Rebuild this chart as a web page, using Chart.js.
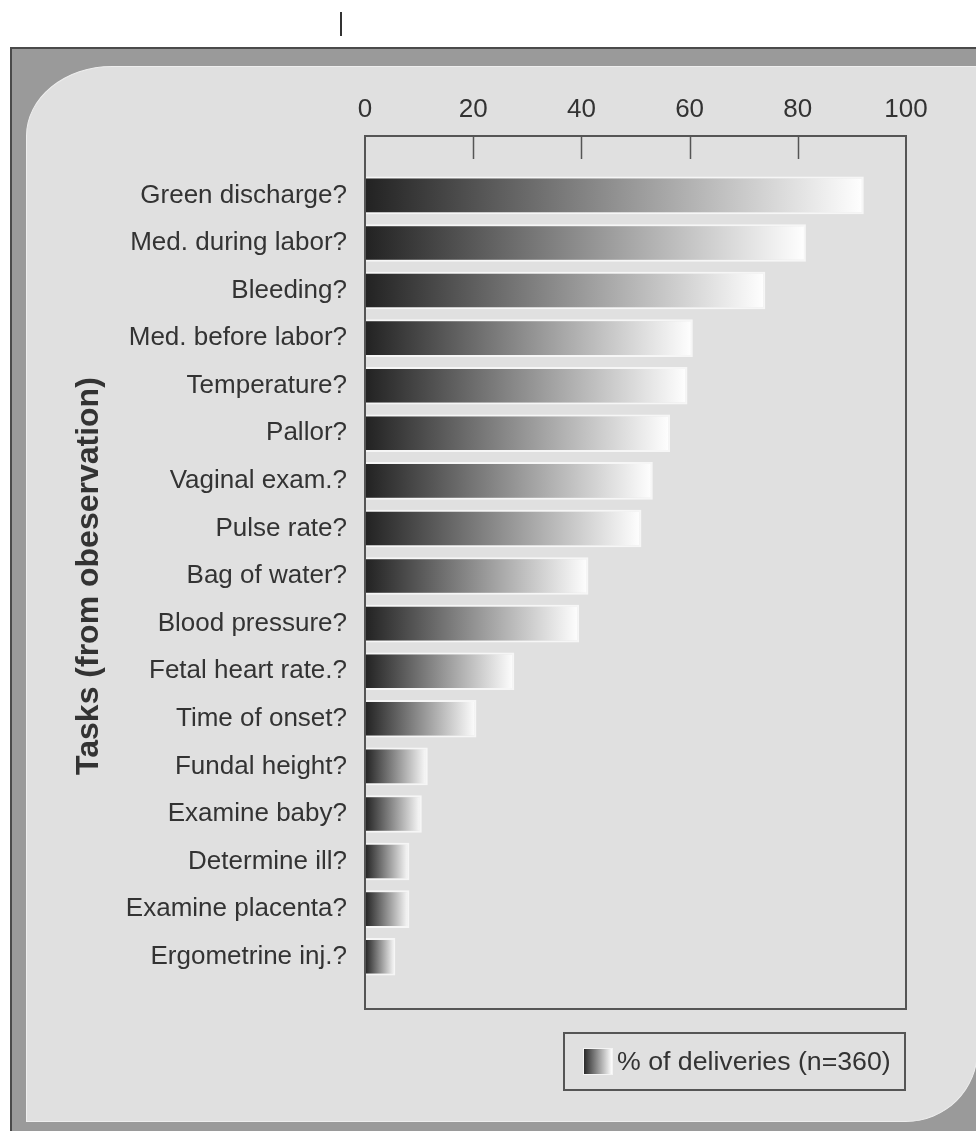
<!DOCTYPE html>
<html>
<head>
<meta charset="utf-8">
<script src="https://cdn.jsdelivr.net/npm/chart.js@4.4.1/dist/chart.umd.min.js"></script>
<style>
  html, body { margin: 0; padding: 0; background: #fff; width: 976px; height: 1131px; overflow: hidden;
               font-family: "Liberation Sans", Arial, sans-serif; }
  #mark   { position: absolute; left: 340px; top: 12px; width: 1.5px; height: 24px; background: #333; }
  #outer  { position: absolute; left: 10px; top: 47px; width: 1000px; height: 1120px; background: #9a9a9a;
            border-left: 2px solid #4a4a4a; border-top: 2px solid #4a4a4a; }
  #panel  { position: absolute; left: 26px; top: 66px; width: 952px; height: 1056px; background: #e0e0e0;
            box-sizing: border-box; border: 1.5px solid #eeeeee;
            border-top-left-radius: 86px 70px; border-bottom-right-radius: 72px; }
  #chartBox { position: absolute; left: 0; top: 0; width: 976px; height: 1131px; }
  #legend { position: absolute; left: 563px; top: 1032px; width: 343px; height: 59px; box-sizing: border-box;
            border: 2px solid #555; display: flex; align-items: center; color: #333; font-size: 26.7px;
            white-space: nowrap; }
  #legend .swatch { flex: none; width: 30px; height: 27px; margin-left: 18px; margin-right: 4px; box-sizing: border-box;
            border: 1.5px solid #f4f4f4; background: linear-gradient(to right, #2a2a2a, #ffffff); }
</style>
</head>
<body>
<div id="mark"></div>
<div id="outer"></div>
<div id="panel"></div>
<div id="chartBox"><canvas id="chart" width="976" height="1131"></canvas></div>
<div id="legend"><span class="swatch"></span><span id="legendText"></span></div>

<script>
// Observed tasks and share of deliveries (%) in which each was performed
const tasks = [
  'Green discharge?', 'Med. during labor?', 'Bleeding?', 'Med. before labor?', 'Temperature?',
  'Pallor?', 'Vaginal exam.?', 'Pulse rate?', 'Bag of water?', 'Blood pressure?',
  'Fetal heart rate.?', 'Time of onset?', 'Fundal height?', 'Examine baby?', 'Determine ill?',
  'Examine placenta?', 'Ergometrine inj.?'
];
const deliveriesPct = [92.2, 81.5, 74.0, 60.6, 59.6, 56.4, 53.2, 51.1, 41.3, 39.6, 27.6, 20.6, 11.6, 10.5, 8.2, 8.2, 5.6];
const xTickValues = [0, 20, 40, 60, 80, 100];
const seriesLabel = '% of deliveries (n=360)';
const axisTitle = 'Tasks (from obeservation)';

Chart.defaults.font.family = '"Liberation Sans", Arial, sans-serif';
Chart.defaults.color = '#333';

// Each bar fades from near-black at the axis to white at its own end
function barGradient(context) {
  const chart = context.chart;
  const x = chart.scales.x;
  if (!chart.chartArea || !x) return '#666';
  const x0 = x.getPixelForValue(0);
  const x1 = x.getPixelForValue(context.raw);
  const g = chart.ctx.createLinearGradient(x0, 0, Math.max(x1, x0 + 1), 0);
  g.addColorStop(0, '#222222');
  g.addColorStop(1, '#ffffff');
  return g;
}

// Box around the plot with short tick marks hanging from its top edge
const plotFrame = {
  id: 'plotFrame',
  afterDatasetsDraw(chart, args, opts) {
    const { ctx, chartArea: { left, right, top, bottom }, scales: { x } } = chart;
    const fTop = top - opts.above;
    const fBottom = bottom + opts.below;
    ctx.save();
    ctx.strokeStyle = opts.color;
    ctx.lineWidth = opts.width;
    ctx.strokeRect(left, fTop, right - left, fBottom - fTop);
    ctx.lineWidth = opts.tickWidth;
    xTickValues.slice(1, -1).forEach(v => {
      const px = Math.round(x.getPixelForValue(v)) + 0.5;
      ctx.beginPath();
      ctx.moveTo(px, fTop);
      ctx.lineTo(px, fTop + opts.tickLength);
      ctx.stroke();
    });
    ctx.restore();
  }
};

new Chart(document.getElementById('chart'), {
  type: 'bar',
  data: {
    labels: tasks,
    datasets: [{
      label: seriesLabel,
      data: deliveriesPct,
      backgroundColor: barGradient,
      borderColor: '#f6f6f6',
      borderWidth: 2,
      borderSkipped: 'start',
      categoryPercentage: 1,
      barPercentage: 0.79
    }]
  },
  options: {
    indexAxis: 'y',
    responsive: false,
    animation: false,
    layout: { padding: { top: 90, left: 60, right: 70, bottom: 150.5 } },
    plugins: {
      legend: { display: false },
      tooltip: { enabled: false },
      plotFrame: { above: 35.6, below: 28.5, color: '#555', width: 2, tickWidth: 1.5, tickLength: 23 }
    },
    scales: {
      x: {
        position: 'top',
        min: 0,
        max: 100,
        afterBuildTicks: s => { s.ticks = xTickValues.map(v => ({ value: v })); },
        grid: { display: false, drawTicks: false },
        border: { display: false },
        ticks: { padding: 46, color: '#333', font: { size: 26 }, maxRotation: 0 },
        afterFit: s => { s.height = 81.6; }
      },
      y: {
        grid: { display: false, drawTicks: false },
        border: { display: false },
        ticks: { padding: 18, color: '#333', font: { size: 26 }, autoSkip: false },
        title: {
          display: true, text: axisTitle, color: '#333',
          font: { size: 32, weight: 'bold' }, padding: { top: 10, bottom: 0 }
        },
        afterFit: s => { s.width = 305; }
      }
    }
  },
  plugins: [plotFrame]
});

document.getElementById('legendText').textContent = seriesLabel;
</script>
</body>
</html>
